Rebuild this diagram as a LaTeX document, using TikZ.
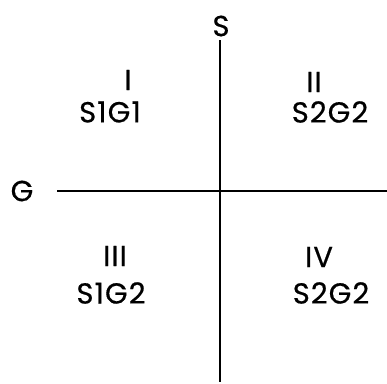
\documentclass[tikz,border=0pt]{standalone}
\usepackage{fontspec}
\setmainfont{Poppins}[FakeBold=0.6,LetterSpace=4]
\begin{document}
\begin{tikzpicture}[x=1pt,y=-1pt,
  lab/.style={font=\fontsize{29}{30}\selectfont, inner sep=0pt, anchor=center},
  axis/.style={line width=2.2pt}]
\useasboundingbox (0,0) rectangle (387,383);
\node[lab] (S) at (221,26) {S};
\node[lab] (G) at (22,191) {G};
\coordinate (vtop) at (220,40);
\coordinate (vbot) at (220,382);
\coordinate (hl) at (57,191);
\coordinate (hr) at (387,191);
\draw[axis] (vtop) -- (vbot);
\draw[axis] (hl) -- (hr);
\node[lab] (n1) at (128,80) {I};
\node[lab] (q1) at (110,112) {S1G1};
\node[lab] (n2) at (314,82) {II};
\node[lab] (q2) at (330,112) {S2G2};
\node[lab] (n3) at (115,256) {III};
\node[lab] (q3) at (111,293) {S1G2};
\node[lab] (n4) at (319,257) {IV};
\node[lab] (q4) at (331,293) {S2G2};
\end{tikzpicture}
\end{document}
